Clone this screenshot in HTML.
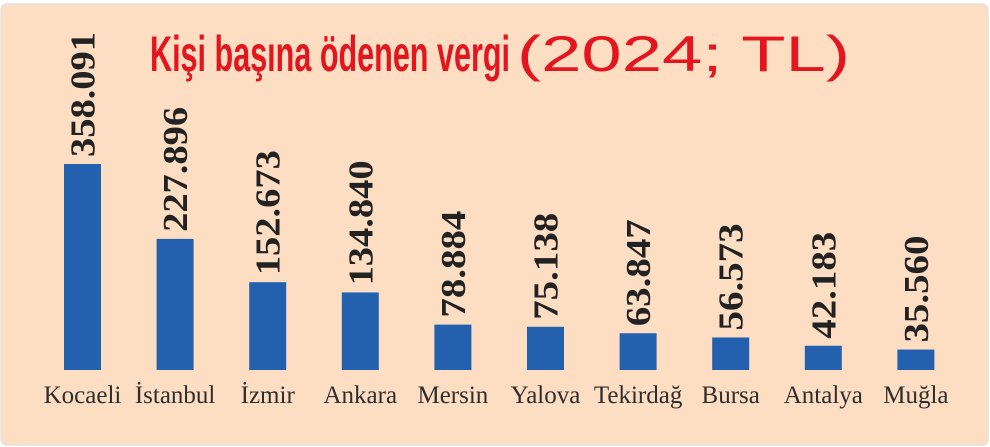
<!DOCTYPE html>
<html><head><meta charset="utf-8"><style>
html,body{margin:0;padding:0;background:#fff}
svg{display:block}
</style></head><body>
<svg id="chart" width="990" height="447" viewBox="0 0 990 447">
<rect x="1" y="4" width="987" height="441" rx="6" fill="#fddec2" stroke="#e6e2dc" stroke-width="1.5"/>
<text x="150" y="71" font-family="'Liberation Sans', sans-serif" font-weight="bold" font-size="50" fill="#e3161f" textLength="360" lengthAdjust="spacingAndGlyphs">Kişi başına ödenen vergi</text>
<text x="517" y="71" font-family="'Liberation Sans', sans-serif" font-size="50" fill="#e3161f" textLength="333" lengthAdjust="spacingAndGlyphs">(2024; TL)</text>
<g id="bars"></g>
</svg>
<script>
const categories = ["Kocaeli","İstanbul","İzmir","Ankara","Mersin","Yalova","Tekirdağ","Bursa","Antalya","Muğla"];
const values = [358091,227896,152673,134840,78884,75138,63847,56573,42183,35560];
const valueLabels = ["358.091","227.896","152.673","134.840","78.884","75.138","63.847","56.573","42.183","35.560"];

const NS = "http://www.w3.org/2000/svg";
const g = document.getElementById("bars");
const baseY = 370, firstCenter = 82.5, step = 92.6, barW = 37;
const yScale = v => baseY - v * (206 / 358091);
const xCenter = i => firstCenter + i * step;

categories.forEach((c, i) => {
  const cx = xCenter(i);
  const top = yScale(values[i]);
  const r = document.createElementNS(NS, "rect");
  r.setAttribute("x", cx - barW / 2);
  r.setAttribute("y", top);
  r.setAttribute("width", barW);
  r.setAttribute("height", baseY - top);
  r.setAttribute("fill", "#2361ae");
  
  
  g.appendChild(r);

  const t = document.createElementNS(NS, "text");
  const tx = cx + 12, ty = top - 7;
  t.setAttribute("x", tx);
  t.setAttribute("y", ty);
  t.setAttribute("transform", "rotate(-90 " + tx + " " + ty + ")");
  t.setAttribute("font-family", "'Liberation Serif', serif");
  t.setAttribute("font-weight", "bold");
  t.setAttribute("font-size", "35");
  t.setAttribute("fill", "#222");
  const len = valueLabels[i].length === 7 ? 125 : 107;
  t.setAttribute("textLength", len);
  t.setAttribute("lengthAdjust", "spacingAndGlyphs");
  t.textContent = valueLabels[i];
  
  
  g.appendChild(t);

  const l = document.createElementNS(NS, "text");
  l.setAttribute("x", cx);
  l.setAttribute("y", 403);
  l.setAttribute("text-anchor", "middle");
  l.setAttribute("font-family", "'Liberation Serif', serif");
  l.setAttribute("font-size", "25");
  l.setAttribute("fill", "#2e2e2e");
  l.textContent = c;
  
  
  g.appendChild(l);
});
</script>
</body></html>
